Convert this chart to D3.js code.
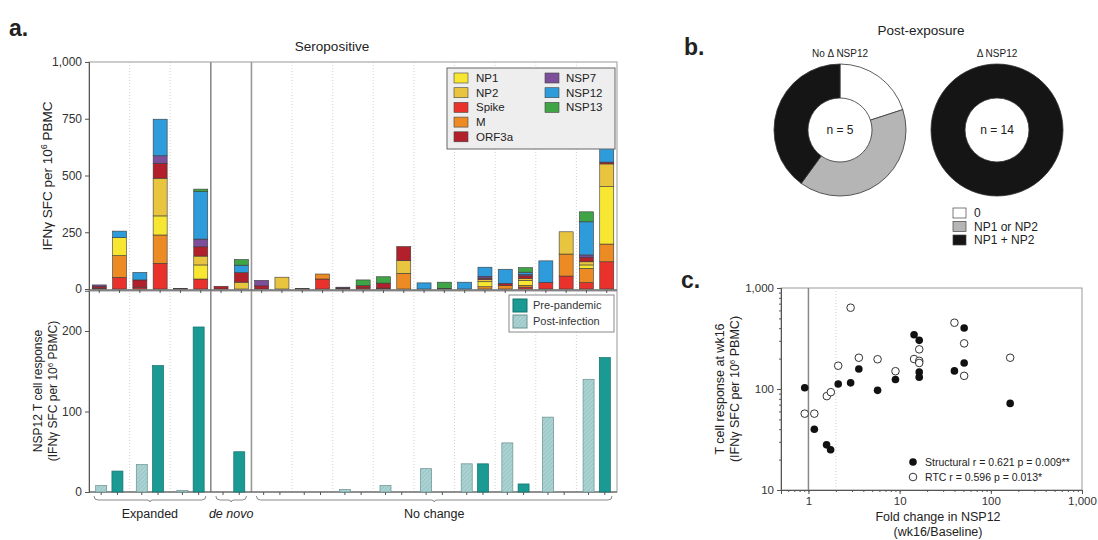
<!DOCTYPE html>
<html><head><meta charset="utf-8">
<script src="https://cdn.jsdelivr.net/npm/d3@7"></script>
<style>body{margin:0;background:#fff}svg{display:block;font-family:Arial,"Liberation Sans",sans-serif}</style>
</head><body><svg id="c" width="1098" height="540"></svg>
<script>
// ---------- DATA ----------
const antigens = ["Spike","M","NP1","NP2","ORF3a","NSP7","NSP12","NSP13"]; // stack order
const legendCol1 = ["NP1","NP2","Spike","M","ORF3a"];
const legendCol2 = ["NSP7","NSP12","NSP13"];
const Spike = [4,51,8,113,3,44,0,0,0,0,2,44,0,5,4,0,0,3,0,0,0,8,29,57,28,120];
const M     = [0,96,0,125,0,0,0,0,0,0,0,22,0,0,0,69,0,0,0,10,15,8,0,97,63,78];
const NP1   = [0,79,0,84,0,62,0,0,0,0,0,0,0,0,0,0,0,0,0,22,0,22,0,0,15,253];
const NP2   = [0,0,0,166,0,39,0,30,0,52,0,0,0,0,0,56,0,0,0,10,0,8,0,98,14,100];
const ORF3a = [8,0,32,66,0,41,12,42,14,0,0,0,4,10,22,62,0,0,0,6,10,12,0,0,20,8];
const NSP7  = [6,0,0,33,0,34,0,0,24,0,0,0,4,0,0,0,0,0,0,8,0,6,0,0,10,0];
const NSP12 = [0,29,33,161,0,209,0,33,0,0,0,0,0,0,0,0,27,0,30,40,62,10,95,0,146,80];
const NSP13 = [0,0,0,0,0,11,0,25,0,0,0,0,0,25,28,0,0,27,0,0,0,20,0,0,44,0];
const topTicks = [0,250,500,750,1000];

const pairGroups = ["Expanded","Expanded","Expanded","de novo","No change","No change","No change","No change","No change","No change","No change","No change","No change"];
const postInfection = [8,34,2,0,0,0,3,8,29,35,61,93,140];
const prePandemic   = [26,157,205,50,0,0,0,0,0,35,10,0,167];
const botTicks = [0,100,200];

const donutCats = ["0","NP1 or NP2","NP1 + NP2"];
const noDeltaCounts = [1,2,2];
const deltaCounts = [0,0,14];

const structX = [0.91,1.16,1.58,1.75,2.12,2.9,3.57,5.73,9.0,14.4,16.4,16.4,16.4,39.9,51,51,163];
const structY = [103,40,28,25,112,115,158,97,124,345,303,147,131,151,402,181,72];
const rtcX = [0.91,1.16,1.59,1.76,2.12,2.9,3.57,5.73,9.0,14.4,16.4,16.4,16.4,39.9,51,51,163];
const rtcY = [57,57,85,93,170,638,204,197,150,198,247,190,181,453,283,135,204];
const cTicks = [1,10,100,1000];
const cYTicks = [10,100,1000];

// ---------- STYLE ----------
const colors = {Spike:"#e8322b",M:"#ec8a23",NP1:"#f7e733",NP2:"#e9c53f",ORF3a:"#b2202b",NSP7:"#7d4f9b",NSP12:"#2e9bdb",NSP13:"#3ea446"};
const series = {Spike,M,NP1,NP2,ORF3a,NSP7,NSP12,NSP13};
const fmt = d3.format(",");
const svg = d3.select("#c");
const defs = svg.append("defs");
const pat = defs.append("pattern").attr("id","hatch").attr("width",3).attr("height",3)
  .attr("patternUnits","userSpaceOnUse").attr("patternTransform","rotate(45)");
pat.append("rect").attr("width",3).attr("height",3).attr("fill","#acd3d3");
pat.append("line").attr("x1",0).attr("y1",0).attr("x2",0).attr("y2",3).attr("stroke","#86b7b7").attr("stroke-width",1);
const teal = "#1b9a94";

// ---------- PANEL A ----------
const L = 89, R = 617, T = 62, MID = 290, B = 492;
const xTop = d3.scaleBand().domain(d3.range(26)).range([L,R]).paddingInner(0.31).paddingOuter(0.16);
const yTop = d3.scaleLinear().domain([0,1000]).range([289,T]);
const xPair = d3.scaleBand().domain(d3.range(13)).range([L,R]);
const xSub = d3.scaleBand().domain(["post","pre"]).range([0,xPair.bandwidth()]).paddingOuter(0.25);
const yBot = d3.scaleLinear().domain([0,250]).range([B,B-250*0.805]);

svg.append("text").attr("x",9).attr("y",36).attr("font-size",23).attr("font-weight","bold").attr("fill","#222").text("a.");
svg.append("text").attr("x",332).attr("y",51).attr("text-anchor","middle").attr("font-size",13.5).attr("fill","#222").text("Seropositive");

// dotted pair separators & solid group separators
const g = svg.append("g");
d3.range(1,13).forEach(i=>{
  const x = xPair(i);
  if(i===3){ g.append("line").attr("x1",x).attr("x2",x).attr("y1",T).attr("y2",B).attr("stroke","#666").attr("stroke-width",1.2); }
  else if(i===4){ g.append("line").attr("x1",x).attr("x2",x).attr("y1",T).attr("y2",B).attr("stroke","#999").attr("stroke-width",1.6); }
  else { g.append("line").attr("x1",x).attr("x2",x).attr("y1",T).attr("y2",B).attr("stroke","#c8c8c8").attr("stroke-width",0.8).attr("stroke-dasharray","1,2"); }
});

// frames
svg.append("rect").attr("x",L).attr("y",T).attr("width",R-L).attr("height",MID-T).attr("fill","none").attr("stroke","#999").attr("stroke-width",1);
svg.append("rect").attr("x",L).attr("y",MID+1).attr("width",R-L).attr("height",B-MID-1).attr("fill","none").attr("stroke","#999").attr("stroke-width",1);

// stacked bars
const stackData = d3.range(26).map(i=>{ const o={i}; antigens.forEach(a=>o[a]=series[a][i]); return o; });
const stacked = d3.stack().keys(antigens)(stackData);
const bars = svg.append("g");
stacked.forEach(layer=>{
  bars.append("g").attr("fill",colors[layer.key]).selectAll("rect")
    .data(layer.filter(d=>d[1]-d[0]>0)).join("rect")
    .attr("x",d=>xTop(d.data.i)).attr("width",xTop.bandwidth())
    .attr("y",d=>yTop(d[1])).attr("height",d=>yTop(d[0])-yTop(d[1]))
    .attr("stroke","#3a3a3a").attr("stroke-width",0.6);
});

// top axes
const yAxT = svg.append("g").attr("transform",`translate(${L},0)`).call(d3.axisLeft(yTop).tickValues(topTicks).tickFormat(fmt).tickSize(4));
const yAxB = svg.append("g").attr("transform",`translate(${L},0)`).call(d3.axisLeft(yBot).tickValues(botTicks).tickSize(4));
[yAxT,yAxB].forEach(a=>{a.select(".domain").attr("stroke","#555");a.selectAll("line").attr("stroke","#555");a.selectAll("text").attr("font-size",12).attr("fill","#333").attr("font-family","Arial, Liberation Sans, sans-serif");});
// x axis lines
svg.append("line").attr("x1",L).attr("x2",R).attr("y1",MID).attr("y2",MID).attr("stroke","#555");
svg.append("line").attr("x1",L).attr("x2",R).attr("y1",B).attr("y2",B).attr("stroke","#555");
svg.append("g").selectAll("line").data(d3.range(26)).join("line")
  .attr("x1",i=>xTop(i)+xTop.bandwidth()/2).attr("x2",i=>xTop(i)+xTop.bandwidth()/2)
  .attr("y1",MID).attr("y2",MID+3).attr("stroke","#555");
const subCenters = [];
d3.range(13).forEach(p=>["post","pre"].forEach(k=>subCenters.push(xPair(p)+xSub(k)+xSub.bandwidth()/2)));
svg.append("g").selectAll("line").data(subCenters).join("line")
  .attr("x1",d=>d).attr("x2",d=>d).attr("y1",B).attr("y2",B+3).attr("stroke","#555");

// NSP12 bars
const bw = 11;
const bot = svg.append("g");
bot.selectAll("rect.post").data(postInfection.map((v,i)=>({v,i})).filter(d=>d.v>0)).join("rect")
  .attr("x",d=>xPair(d.i)+xSub("post")+xSub.bandwidth()/2-bw/2).attr("width",bw)
  .attr("y",d=>yBot(d.v)).attr("height",d=>yBot(0)-yBot(d.v))
  .attr("fill","url(#hatch)").attr("stroke","#6a8f8f").attr("stroke-width",0.7);
bot.selectAll("rect.pre").data(prePandemic.map((v,i)=>({v,i})).filter(d=>d.v>0)).join("rect")
  .attr("x",d=>xPair(d.i)+xSub("pre")+xSub.bandwidth()/2-bw/2).attr("width",bw)
  .attr("y",d=>yBot(d.v)).attr("height",d=>yBot(0)-yBot(d.v))
  .attr("fill",teal).attr("stroke","#13706b").attr("stroke-width",0.7);

// y labels
const ylab = svg.append("text").attr("transform","translate(52,176) rotate(-90)").attr("text-anchor","middle").attr("font-size",13.5).attr("fill","#222");
ylab.append("tspan").text("IFNγ SFC per 10");
ylab.append("tspan").attr("dy",-5).attr("font-size",9).text("6");
ylab.append("tspan").attr("dy",5).text(" PBMC");
const yl2 = svg.append("text").attr("transform","translate(42,391) rotate(-90)").attr("text-anchor","middle").attr("font-size",12).attr("fill","#222").text("NSP12 T cell response");
const yl3 = svg.append("text").attr("transform","translate(57,391) rotate(-90)").attr("text-anchor","middle").attr("font-size",12).attr("fill","#222");
yl3.append("tspan").text("(IFNγ SFC per 10");
yl3.append("tspan").attr("dy",-4).attr("font-size",8).text("6");
yl3.append("tspan").attr("dy",4).text(" PBMC)");

// brackets
const groupsU = [...new Set(pairGroups)];
groupsU.forEach(gn=>{
  const idx = pairGroups.map((d,i)=>d===gn?i:-1).filter(i=>i>=0);
  const x1 = xPair(idx[0])+5, x2 = xPair(idx[idx.length-1])+xPair.bandwidth()-5, m=(x1+x2)/2, y=500;
  svg.append("path").attr("d",`M${x1},${y-4} Q${x1},${y} ${x1+4},${y} H${m-3} Q${m},${y} ${m},${y+2} Q${m},${y} ${m+3},${y} H${x2-4} Q${x2},${y} ${x2},${y-4}`)
    .attr("fill","none").attr("stroke","#888").attr("stroke-width",1);
  svg.append("text").attr("x",m).attr("y",518).attr("text-anchor","middle").attr("font-size",12.5).attr("fill","#222")
    .attr("font-style",gn==="de novo"?"italic":"normal").text(gn);
});

// top legend
const lg = svg.append("g");
lg.append("rect").attr("x",447).attr("y",68).attr("width",168).attr("height",81).attr("fill","#eeeeee").attr("stroke","#666").attr("stroke-width",1);
legendCol1.forEach((k,i)=>{
  lg.append("rect").attr("x",454).attr("y",73+i*14.7).attr("width",14).attr("height",10).attr("fill",colors[k]).attr("stroke","#444").attr("stroke-width",0.6);
  lg.append("text").attr("x",476).attr("y",82+i*14.7).attr("font-size",11.5).attr("fill","#222").text(k);
});
legendCol2.forEach((k,i)=>{
  lg.append("rect").attr("x",545).attr("y",73+i*14.7).attr("width",14).attr("height",10).attr("fill",colors[k]).attr("stroke","#444").attr("stroke-width",0.6);
  lg.append("text").attr("x",566).attr("y",82+i*14.7).attr("font-size",11.5).attr("fill","#222").text(k);
});
// bottom legend
const lb = svg.append("g");
lb.append("rect").attr("x",509).attr("y",295).attr("width",105).attr("height",37).attr("fill","#fff").attr("stroke","#888");
lb.append("rect").attr("x",513).attr("y",299).attr("width",14).attr("height",13).attr("fill",teal).attr("stroke","#13706b");
lb.append("text").attr("x",533).attr("y",309).attr("font-size",11).attr("fill","#333").text("Pre-pandemic");
lb.append("rect").attr("x",513).attr("y",315).attr("width",14).attr("height",13).attr("fill","url(#hatch)").attr("stroke","#6a8f8f");
lb.append("text").attr("x",533).attr("y",325).attr("font-size",11).attr("fill","#333").text("Post-infection");

// ---------- PANEL B ----------
svg.append("text").attr("x",684).attr("y",55).attr("font-size",23).attr("font-weight","bold").attr("fill","#222").text("b.");
svg.append("text").attr("x",921).attr("y",35).attr("text-anchor","middle").attr("font-size",13.5).attr("fill","#222").text("Post-exposure");
const donutCol = ["#ffffff","#b5b5b5","#151515"];
const pie = d3.pie().sort(null).value(d=>d);
const arc = d3.arc().innerRadius(32).outerRadius(66);
[[840,noDeltaCounts,"No Δ NSP12","n = 5"],[997,deltaCounts,"Δ NSP12","n = 14"]].forEach(([cx,counts,title,n])=>{
  const dg = svg.append("g").attr("transform",`translate(${cx},130)`);
  dg.selectAll("path").data(pie(counts).filter(d=>d.value>0)).join("path").attr("d",arc)
    .attr("fill",d=>donutCol[d.index]).attr("stroke","#333").attr("stroke-width",0.8);
  dg.append("text").attr("y",4).attr("text-anchor","middle").attr("font-size",12).attr("fill","#222").text(n);
  svg.append("text").attr("x",cx).attr("y",57).attr("text-anchor","middle").attr("font-size",10).attr("fill","#222").text(title);
});
donutCats.forEach((c,i)=>{
  svg.append("rect").attr("x",953).attr("y",208+i*13.5).attr("width",13).attr("height",10).attr("fill",donutCol[i]).attr("stroke","#444").attr("stroke-width",0.7);
  svg.append("text").attr("x",974).attr("y",217+i*13.5).attr("font-size",12).attr("fill","#222").text(c);
});

// ---------- PANEL C ----------
svg.append("text").attr("x",681).attr("y",288).attr("font-size",23).attr("font-weight","bold").attr("fill","#222").text("c.");
const cx0=781, cx1=1082, cy0=288, cy1=490;
const xc = d3.scaleLog().domain([0.5,1000]).range([cx0,cx1]);
const yc = d3.scaleLog().domain([10,1000]).range([cy1,cy0]);
svg.append("rect").attr("x",cx0).attr("y",cy0).attr("width",cx1-cx0).attr("height",cy1-cy0).attr("fill","none").attr("stroke","#999");
svg.append("line").attr("x1",xc(1)).attr("x2",xc(1)).attr("y1",cy0).attr("y2",cy1).attr("stroke","#888").attr("stroke-width",1.5);
svg.append("line").attr("x1",xc(2)).attr("x2",xc(2)).attr("y1",cy0).attr("y2",cy1).attr("stroke","#ccc").attr("stroke-dasharray","1,2");
const xA = svg.append("g").attr("transform",`translate(0,${cy1})`).call(d3.axisBottom(xc).tickValues(xc.ticks().filter(v=>v>=0.5)).tickSize(2).tickFormat(""));
const xA2 = svg.append("g").attr("transform",`translate(0,${cy1})`).call(d3.axisBottom(xc).tickValues(cTicks).tickSize(4).tickFormat(fmt));
const yA = svg.append("g").attr("transform",`translate(${cx0},0)`).call(d3.axisLeft(yc).tickValues(yc.ticks()).tickSize(2).tickFormat(""));
const yA2 = svg.append("g").attr("transform",`translate(${cx0},0)`).call(d3.axisLeft(yc).tickValues(cYTicks).tickSize(4).tickFormat(fmt));
[xA,xA2,yA,yA2].forEach(a=>{a.select(".domain").attr("stroke","#555");a.selectAll("line").attr("stroke","#555");a.selectAll("text").attr("font-size",11.5).attr("fill","#333").attr("font-family","Arial, Liberation Sans, sans-serif");});
svg.selectAll("circle.s").data(structX.map((x,i)=>[x,structY[i]])).join("circle")
  .attr("cx",d=>xc(d[0])).attr("cy",d=>yc(d[1])).attr("r",3.8).attr("fill","#111");
svg.selectAll("circle.r").data(rtcX.map((x,i)=>[x,rtcY[i]])).join("circle")
  .attr("cx",d=>xc(d[0])).attr("cy",d=>yc(d[1])).attr("r",3.8).attr("fill","#fff").attr("stroke","#333").attr("stroke-width",1);
svg.append("circle").attr("cx",913).attr("cy",462).attr("r",3.8).attr("fill","#111");
svg.append("circle").attr("cx",913).attr("cy",477).attr("r",3.8).attr("fill","#fff").attr("stroke","#333");
svg.append("text").attr("x",925).attr("y",466).attr("font-size",10.5).attr("fill","#222").text("Structural r = 0.621 p = 0.009**");
svg.append("text").attr("x",925).attr("y",481).attr("font-size",10.5).attr("fill","#222").text("RTC r = 0.596 p = 0.013*");
svg.append("text").attr("transform","translate(724,389) rotate(-90)").attr("text-anchor","middle").attr("font-size",12.5).attr("fill","#222").text("T cell response at wk16");
const cl = svg.append("text").attr("transform","translate(739,389) rotate(-90)").attr("text-anchor","middle").attr("font-size",12.5).attr("fill","#222");
cl.append("tspan").text("(IFNγ SFC per 10");
cl.append("tspan").attr("dy",-4).attr("font-size",8).text("6");
cl.append("tspan").attr("dy",4).text(" PBMC)");
svg.append("text").attr("x",938).attr("y",521).attr("text-anchor","middle").attr("font-size",12.5).attr("fill","#222").text("Fold change in NSP12");
svg.append("text").attr("x",938).attr("y",536).attr("text-anchor","middle").attr("font-size",12.5).attr("fill","#222").text("(wk16/Baseline)");
</script></body></html>
